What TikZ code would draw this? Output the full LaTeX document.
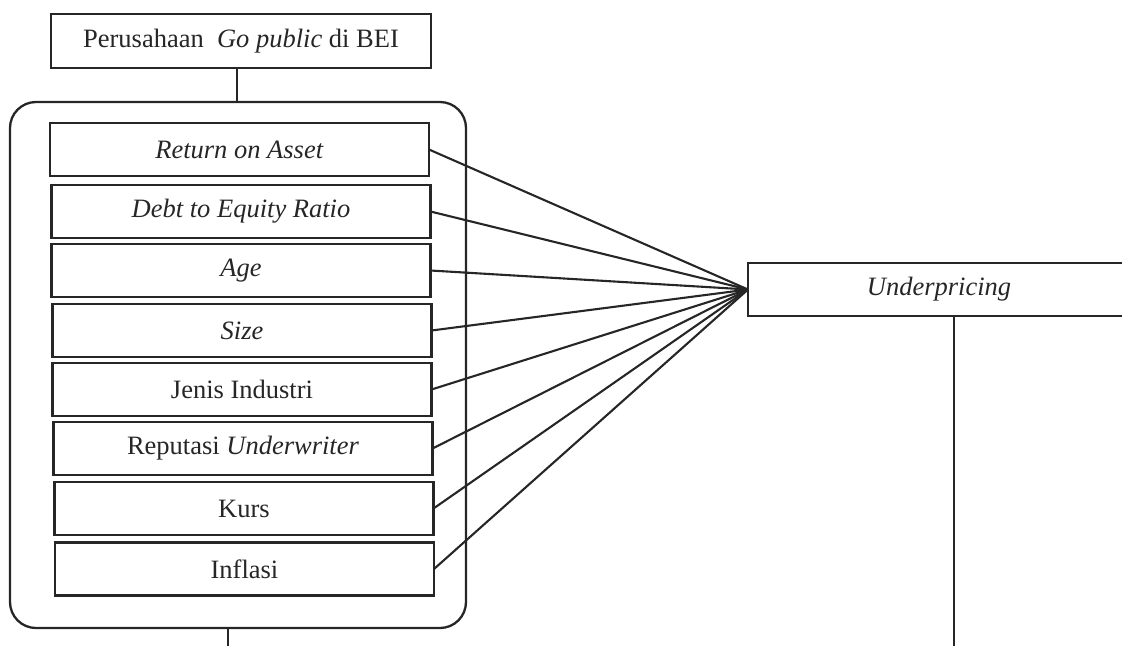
\documentclass[tikz,border=0pt]{standalone}
\usepackage{fontspec}
\setmainfont{Liberation Serif}
\begin{document}
\begin{tikzpicture}[x=1pt,y=-1pt,
  line width=2.3pt, draw=black!85,
  every node/.style={font=\fontsize{26.5}{30}\selectfont, inner sep=0pt, outer sep=0pt, text=black!85},
  box/.style={draw, rectangle, minimum width=379pt, minimum height=53pt},
  link/.style={line width=2.1pt}]
\useasboundingbox (0,0) rectangle (1122,646);
\node[box, minimum width=380pt, minimum height=54pt] (top) at (241,41) {Perusahaan\ \ \textit{Go public} di BEI};
\node[draw, rectangle, rounded corners=26pt, minimum width=456pt, minimum height=526pt] (grp) at (238,365) {};
\node[box] (roa) at (239.5,149.5) {\textit{Return on Asset}};
\node[box] (der) at (241,211.5) {\textit{Debt to Equity Ratio}};
\node[box] (age) at (241,270.5) {\textit{Age}};
\node[box] (size) at (242,330.5) {\textit{Size}};
\node[box] (jenis) at (242,389.5) {Jenis Industri};
\node[box] (rep) at (243,448.5) {Reputasi \textit{Underwriter}};
\node[box] (kurs) at (244,508.5) {Kurs};
\node[box] (infl) at (244.5,569) {Inflasi};
\node[minimum width=382pt, minimum height=53pt] (up) at (939,289.5) {\textit{Underpricing}};
\draw (up.north east) -- (up.north west) -- (up.south west) -- (up.south east);
\coordinate (tc) at (237,68);
\draw (tc) -- (tc |- grp.north);
\coordinate (bc) at (228,646);
\draw (bc |- grp.south) -- (bc);
\coordinate (uc) at (954,646);
\draw (uc |- up.south) -- (uc);
\foreach \n in {roa,der,age,size,jenis,rep,kurs,infl}
  \draw[link] (\n.east) -- (up.west);
\end{tikzpicture}
\end{document}
